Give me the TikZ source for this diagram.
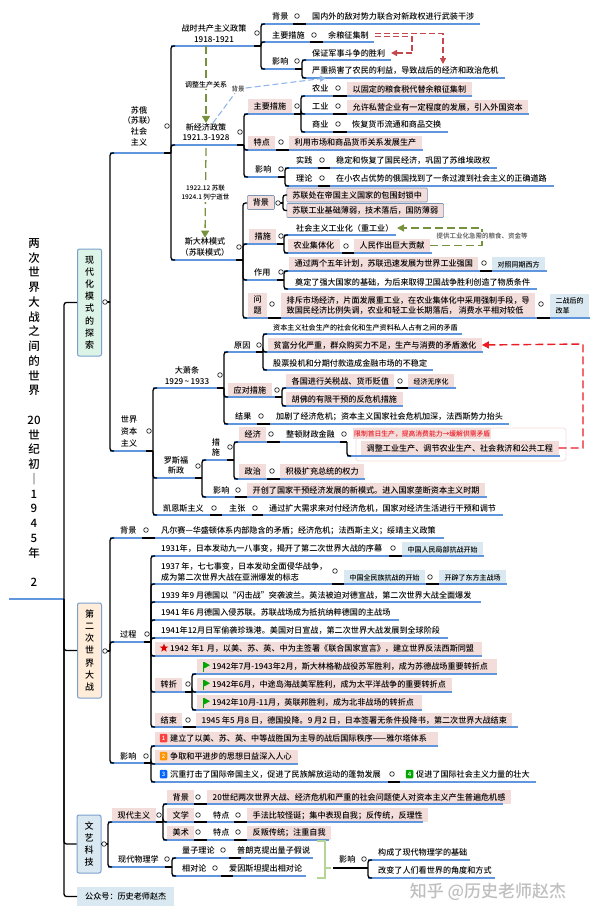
\documentclass[tikz,border=0pt]{standalone}
\usepackage{fontspec}
\setmainfont{Noto Sans CJK SC}[UprightFont=* Medium]
\usepackage{xcolor}
\usepackage{tikz}
\usetikzlibrary{arrows.meta,shapes.geometric}
\definecolor{barblue}{RGB}{96,150,222}
\definecolor{boxblue}{RGB}{122,160,205}
\definecolor{mypink}{RGB}{243,221,219}
\definecolor{mytag}{RGB}{218,233,241}
\definecolor{mygreen}{RGB}{118,146,60}
\definecolor{mybrick}{RGB}{196,72,76}
\definecolor{myred}{RGB}{236,28,36}
\definecolor{mypale}{RGB}{181,212,150}

\tikzset{
  txt/.style={anchor=west,inner xsep=0pt,inner ysep=3pt,text height=7pt,text depth=1pt,font=\fontsize{8.1}{10.5}\selectfont},
  txts/.style={txt,font=\fontsize{7.1}{9}\selectfont},
  ctr/.style={align=center,inner sep=0pt,font=\fontsize{8.1}{10.7}\selectfont},
  txtm/.style={anchor=west,align=left,inner sep=0pt,font=\fontsize{8.1}{11}\selectfont},
  pinkb/.style={txt,fill=mypink,inner xsep=5.5pt},
  pinkbd/.style={pinkb,draw=boxblue!70!gray,line width=.6pt,rounded corners=1pt},
  pinkm/.style={anchor=west,fill=mypink,align=left,inner xsep=5.5pt,inner ysep=2pt,font=\fontsize{8.1}{10.2}\selectfont},
  tagb/.style={txt,fill=mytag,inner xsep=5.5pt,font=\fontsize{7}{9}\selectfont},
  lbl/.style={fill=white,inner sep=1pt,align=center,font=\fontsize{6.5}{9.3}\selectfont},
  modebox/.style={draw=boxblue,line width=1pt,rounded corners=2pt,minimum width=24pt,inner sep=0pt,align=center,font=\fontsize{9}{12.2}\selectfont},
  badge/.style={rounded corners=1pt,minimum width=7.5pt,minimum height=8.5pt,inner sep=0pt,text=white,font=\fontsize{6}{6}\selectfont},
  knob/.style={circle,draw=black!85,line width=.7pt,fill=white,minimum size=4.6pt,inner sep=0pt},
  bar/.style={draw=barblue,line width=1.5pt},
  joint/.style={draw=black,line width=1.3pt},
  spine/.style={draw=black,line width=1.3pt,rounded corners=2.5pt},
  gdash/.style={draw=mygreen,line width=1.3pt,dash pattern=on 8pt off 4pt},
  bdash/.style={draw=barblue!70,line width=1.1pt,dash pattern=on 6pt off 3pt},
  rdash/.style={draw=mybrick,line width=1.3pt,dash pattern=on 6pt off 3pt},
  flagmark/.pic={
    \fill[green!65!black] (0,0) rectangle (1.2,10);
    \fill[green!65!black] (1.2,0) -- (7,3.2) -- (1.2,6.4) -- cycle;
  }
}

% a blue bar under a topic, with its two end points named
\newcommand{\topicbar}[4]{%
  \coordinate (#1l) at (#2,#4);
  \coordinate (#1r) at (#3,#4);
  \draw[bar] (#1l) -- (#1r);
}
% black elbows from the end of a bar to the bars below it
\newcommand{\subtree}[2]{%
  \draw[joint] ([xshift=-7pt]#1r) -- (#1r);
  \foreach \kid in {#2} \draw[spine] (#1r) |- ([xshift=4pt]\kid l);
}

\begin{document}
\begin{tikzpicture}[x=1pt,y=-1pt]
\useasboundingbox (0,0) rectangle (600,916);

% title and the three main boxes
\node[align=center,inner sep=0pt,font=\fontsize{11.5}{14.75}\selectfont] (title) at (34,412.5)
  {两\\次\\世\\界\\大\\战\\之\\间\\的\\世\\界\\~\\20\\世\\纪\\初\\｜\\1\\9\\4\\5\\年\\~\\2};
\node[modebox,fill=green!10!mytag!60!white,minimum height=107pt] (xdbox) at (89.5,302.5)
  {现\\代\\化\\模\\式\\的\\探\\索};
\node[modebox,fill=orange!15,minimum height=95pt] (ezbox) at (89.5,650.5)
  {第\\二\\次\\世\\界\\大\\战};
\node[modebox,fill=mytag,minimum height=58pt,font=\fontsize{9}{11.7}\selectfont] (wybox) at (89,844)
  {文\\艺\\科\\技};
\node[tagb,font=\fontsize{8.1}{10}\selectfont,inner xsep=8pt,inner ysep=5.5pt] (gzh) at (77,896.5) {公众号：历史老师赵杰};

% soviet branch
\node[ctr] (sutxt) at (139,126) {苏俄\\（苏联）\\社会\\主义};
\node[ctr] (zstxt) at (214,33.5) {战时共产主义政策\\1918-1921};
\node[ctr] (xjtxt) at (206,132) {新经济政策\\1921.3-1928};
\node[ctr] (sdtxt) at (205,247) {斯大林模式\\（苏联模式）};

\node[txt] (zsbjt) at (272,16) {背景};
\node[txt] (zsbjc) at (312,16) {国内外的敌对势力联合对新政权进行武装干涉};
\node[txt] (zscst) at (272,35) {主要措施};
\node[txt] (ylz) at (328,35) {余粮征集制};
\node[txt] (zsyxt) at (272,61) {影响};
\node[txt] (zs1t) at (312,53) {保证军事斗争的胜利};
\node[txt] (zs2t) at (312,70) {严重损害了农民的利益，导致战后的经济和政治危机};

\node[pinkb] (xjcst) at (248,106) {主要措施};
\node[txt] (nyt) at (312,88) {农业};
\node[pinkb] (nyc) at (347,89) {以固定的粮食税代替余粮征集制};
\node[txt] (gyt) at (312,106) {工业};
\node[pinkb] (gyc) at (347,107) {允许私营企业有一定程度的发展，引入外国资本};
\node[txt] (syt) at (312,124) {商业};
\node[txt] (syc) at (352,124) {恢复货币流通和商品交换};
\node[pinkb] (tdt) at (248,142.5) {特点};
\node[pinkb] (tdc) at (289,142.5) {利用市场和商品货币关系发展生产};
\node[txt] (xjyxt) at (255,169) {影响};
\node[txt] (sjt) at (296,160) {实践};
\node[txt] (sjc) at (336,160) {稳定和恢复了国民经济，巩固了苏维埃政权};
\node[txt] (llt) at (296,178) {理论};
\node[txt] (llc) at (336,178) {在小农占优势的俄国找到了一条过渡到社会主义的正确道路};

\node[pinkbd] (sdbjt) at (247,202.5) {背景};
\node[pinkbd] (sb1) at (286.5,195) {苏联处在帝国主义国家的包围封锁中};
\node[pinkbd] (sb2) at (286.5,210.5) {苏联工业基础薄弱，技术落后，国防薄弱};
\node[pinkb] (sdcst) at (249,236) {措施};
\node[txt] (gyh) at (296,228) {社会主义工业化（重工业）};
\node[pinkb] (jth) at (288,245.5) {农业集体化};
\node[pinkb] (rmc) at (354,245.5) {人民作出巨大贡献};
\node[txt] (sdzyt) at (254,272) {作用};
\node[pinkb] (wnj) at (289,263.5) {通过两个五年计划，苏联迅速发展为世界工业强国};
\node[tagb] (dzxf) at (492,264) {对照同期西方};
\node[txt] (ddc) at (295,282) {奠定了强大国家的基础，为后来取得卫国战争胜利创造了物质条件};
\node[pinkm,minimum height=25pt,minimum width=19pt,align=center] (wtt) at (248,305) {问\\题};
\node[pinkm,minimum height=25pt] (wtc) at (281,305.5) {排斥市场经济，片面发展重工业，在农业集体化中采用强制手段，导\\致国民经济比例失调，农业和轻工业长期落后， 消费水平相对较低};
\node[tagb,minimum height=24pt,align=left,text height=,text depth=,font=\fontsize{7}{10}\selectfont] (ezgg) at (550,306) {二战后的\\改革};

% capitalist branch
\node[ctr,font=\fontsize{8.1}{12}\selectfont] (sjtxt) at (129,431) {世界\\资本\\主义};
\node[ctr] (dxtxt) at (187,375.5) {大萧条\\1929\,\textasciitilde\,1933};
\node[txt] (dxyyt) at (234,345) {原因};
\node[txts] (yy1c) at (273,327) {资本主义社会生产的社会化和生产资料私人占有之间的矛盾};
\node[pinkb] (pfc) at (268,345) {贫富分化严重，群众购买力不足，生产与消费的矛盾激化};
\node[txt] (yy3c) at (273,363) {股票投机和分期付款造成金融市场的不稳定};
\node[pinkb] (dxcdt) at (228,390) {应对措施};
\node[pinkb] (cd1c) at (286,381) {各国进行关税战、货币贬值};
\node[tagb,fill=mypink] (wxh) at (408,381) {经济无序化};
\node[pinkb] (cd2c) at (286,399) {胡佛的有限干预的反危机措施};
\node[txt] (dxjgt) at (235,416) {结果};
\node[txt] (dxjgc) at (276,416) {加剧了经济危机；资本主义国家社会危机加深，法西斯势力抬头};

\node[ctr] (lstxt) at (176,465.5) {罗斯福\\新政};
\node[ctr] (lscst) at (216,447.5) {措\\施};
\node[draw=mypink,line width=.8pt,rounded corners=3pt,minimum width=210pt,minimum height=33pt,inner sep=0pt] (tzgrp) at (461,444.5) {};
\node[pinkb] (jjt) at (239,434) {经济};
\node[txt] (zdc) at (286,434) {整顿财政金融};
\node[txt,fill=mypink,inner xsep=1pt,inner ysep=1.5pt,text=myred,font=\fontsize{6.8}{8}\selectfont] (xzc) at (353,433.5) {限制首日生产，提高消费能力→缓解供需矛盾};
\node[pinkb] (tzc) at (361,448) {调整工业生产、调节农业生产、社会救济和公共工程};
\node[pinkb] (zzt) at (239,471) {政治};
\node[pinkb] (zzc) at (280,471) {积极扩充总统的权力};
\node[txt] (lsyxt) at (213,490) {影响};
\node[pinkb] (lsyxc) at (247,490) {开创了国家干预经济发展的新模式。进入国家垄断资本主义时期};
\node[txt] (kst) at (163,508) {凯恩斯主义};
\node[txt] (kszz) at (229,508) {主张};
\node[txt] (ksc) at (269,508) {通过扩大需求来对付经济危机，国家对经济生活进行干预和调节};

% second world war branch
\node[txt] (ebjt) at (120,530) {背景};
\node[txt] (ebjc) at (161,530) {凡尔赛—华盛顿体系内部隐含的矛盾；经济危机；法西斯主义；绥靖主义政策};
\node[txt] (egct) at (120,634) {过程};
\node[txt] (g1c) at (161,548) {1931年，日本发动九一八事变，揭开了第二次世界大战的序幕};
\node[tagb] (g1t) at (402,549) {中国人民局部抗战开始};
\node[txtm] (g2c) at (161,571.5) {1937 年，七七事变，日本发动全面侵华战争，\\成为第二次世界大战在亚洲爆发的标志};
\node[tagb] (g2t) at (344,577) {中国全民族抗战的开始};
\node[tagb] (g2u) at (439,577) {开辟了东方主战场};
\node[txt] (g3c) at (161,595) {1939 年9 月德国以“闪击战”突袭波兰。英法被迫对德宣战，第二次世界大战全面爆发};
\node[txt] (g4c) at (161,612) {1941 年6 月德国入侵苏联。苏联战场成为抵抗纳粹德国的主战场};
\node[txt] (g5c) at (161,630) {1941年12月日军偷袭珍珠港。美国对日宣战，第二次世界大战发展到全球阶段};
\node[pinkb,inner xsep=0pt,text width=327pt] (g6c) at (155,648.5) {\hspace*{15pt}1942 年1 月，以美、苏、英、中为主签署《联合国家宣言》，建立世界反法西斯同盟};
\node[star,star points=5,star point ratio=2.4,fill=red!85!black,minimum size=9pt,inner sep=0pt] (g6s) at (164,648) {};

\node[pinkb,inner xsep=0pt,text width=300pt] (zz1c) at (197,666) {\hspace*{15pt}1942年7月-1943年2月，斯大林格勒战役苏军胜利，成为苏德战场重要转折点};
\node[pinkb,inner xsep=0pt,text width=255pt] (zz2c) at (197,684.5) {\hspace*{15pt}1942年6月，中途岛海战美军胜利，成为太平洋战争的重要转折点};
\node[pinkb,inner xsep=0pt,text width=225pt] (zz3c) at (197,702) {\hspace*{15pt}1942年10月-11月，英联邦胜利，成为北非战场的转折点};
\pic at (203,662) {flagmark};
\pic at (203,680) {flagmark};
\pic at (203,698) {flagmark};
\node[pinkb] (gzzt) at (155,684.5) {转折};
\node[pinkb] (gjst) at (155,720) {结束};
\node[pinkb] (gjsc) at (196,720) {1945 年5 月8 日，德国投降。9 月2 日，日本签署无条件投降书，第二次世界大战结束};

\node[txt] (eyxt) at (120,756) {影响};
\node[pinkb,inner xsep=0pt,text width=283pt] (yx1c) at (155,738.5) {\hspace*{15pt}建立了以美、苏、英、中等战胜国为主导的战后国际秩序——雅尔塔体系};
\node[pinkb,inner xsep=0pt,text width=143pt] (yx2c) at (155,756.5) {\hspace*{15pt}争取和平进步的思想日益深入人心};
\node[txt] (yx3c) at (170,774) {沉重打击了国际帝国主义，促进了民族解放运动的蓬勃发展};
\node[txt] (yx4c) at (416,774) {促进了国际社会主义力量的壮大};
\node[badge,fill=red!75] (n1) at (163.5,738) {1};
\node[badge,fill=orange!85!yellow] (n2) at (163.5,756) {2};
\node[badge,fill=blue!60!cyan] (n3) at (163.5,774) {3};
\node[badge,fill=green!65!black] (n4) at (409.5,774) {4};

% art and science branch
\node[pinkb] (xdzy) at (112,815) {现代主义};
\node[pinkb] (xd1t) at (167,797) {背景};
\node[pinkb] (xd1c) at (207,797) {20世纪两次世界大战、经济危机和严重的社会问题使人对资本主义产生普遍危机感};
\node[pinkb] (xd2t) at (167,815) {文学};
\node[txt] (xd2u) at (213,815) {特点};
\node[pinkb] (xd2c) at (247,815) {手法比较怪诞；集中表现自我；反传统，反理性};
\node[pinkb] (xd3t) at (167,832.5) {美术};
\node[txt] (xd3u) at (213,832) {特点};
\node[pinkb] (xd3c) at (247,832.5) {反叛传统；注重自我};
\node[txt] (wlx) at (118,859) {现代物理学};
\node[txt] (wl1t) at (182,850) {量子理论};
\node[txt] (wl1c) at (237,850) {普朗克提出量子假说};
\node[txt] (wl2t) at (182,868) {相对论};
\node[txt] (wl2c) at (229,868) {爱因斯坦提出相对论};
\node[txt] (phyx) at (339,859) {影响};
\node[txt] (ph1c) at (378,852) {构成了现代物理学的基础};
\node[txt] (ph2c) at (378,870) {改变了人们看世界的角度和方式};
\node[anchor=center,inner sep=0pt,text=black!25,font=\fontsize{17}{20}\selectfont] (zhihu) at (488,892) {知乎 @历史老师赵杰};

% bars
\topicbar{su}{110}{171}{153}
\topicbar{zs}{171}{261}{46}
\topicbar{xj}{171}{244}{145}
\topicbar{sd}{171}{243}{260}
\topicbar{zsbj}{261}{480}{24}
\topicbar{zscs}{261}{374}{42}
\topicbar{zsyx}{261}{302}{69}
\topicbar{zs1}{302}{391}{60}
\topicbar{zs2}{302}{505}{78}
\topicbar{xjcs}{244}{301}{114}
\topicbar{xjtd}{244}{423}{150}
\topicbar{xjyx}{244}{285}{177}
\topicbar{csny}{301}{472}{96}
\topicbar{csgy}{301}{529}{114}
\topicbar{cssy}{301}{448}{132}
\topicbar{yxsj}{285}{497}{168}
\topicbar{yxll}{285}{554}{186}
\topicbar{sdcs}{243}{284}{244}
\topicbar{cs1}{284}{396}{235}
\topicbar{cs2}{284}{432}{253}
\topicbar{sdzy}{243}{284}{280}
\topicbar{zy1}{284}{547}{271}
\topicbar{zy2}{284}{537}{289}
\topicbar{sdwt}{243}{590}{318}

\topicbar{sj}{110}{153}{451}
\topicbar{dx}{153}{224}{388}
\topicbar{ls}{153}{202}{478}
\topicbar{ks}{153}{503}{515}
\topicbar{dxyy}{224}{263}{352}
\topicbar{dxcd}{224}{282}{397}
\topicbar{dxjg}{224}{509}{424}
\topicbar{yy1}{263}{462}{334}
\topicbar{yy2}{263}{483}{352}
\topicbar{yy3}{263}{433}{370}
\topicbar{cd1}{282}{456}{388}
\topicbar{cd2}{282}{403}{406}
\topicbar{lscs}{202}{234}{460}
\topicbar{lsyx}{202}{487}{497}
\topicbar{lsjj}{234}{347}{442}
\topicbar{lszz}{234}{365}{479}
\topicbar{lstz}{347}{560}{456}

\topicbar{ebj}{110}{444}{538}
\topicbar{egc}{110}{151}{642}
\topicbar{eyx}{110}{151}{763}
\topicbar{g1}{151}{484}{556}
\topicbar{g2}{151}{507}{584}
\topicbar{g3}{151}{481}{602}
\topicbar{g4}{151}{399}{620}
\topicbar{g5}{151}{448}{638}
\topicbar{g6}{151}{482}{656}
\topicbar{gzz}{151}{192}{692}
\topicbar{gjs}{151}{518}{727}
\topicbar{zz1}{192}{497}{674}
\topicbar{zz2}{192}{452}{692}
\topicbar{zz3}{192}{422}{710}
\topicbar{yx1}{151}{438}{746}
\topicbar{yx2}{151}{298}{764}
\topicbar{yx3}{151}{536}{782}

\topicbar{wxd}{108}{163}{822}
\topicbar{wwl}{108}{172}{867}
\topicbar{xd1}{163}{503}{804}
\topicbar{xd2}{163}{423}{822}
\topicbar{xd3}{163}{329}{840}
\topicbar{wl1}{172}{313}{858}
\topicbar{wl2}{172}{306}{876}
\topicbar{ph1}{368}{470}{860}
\topicbar{ph2}{368}{495}{878}

\coordinate (rootl) at (9,599);
\coordinate (rootr) at (64,599);
\draw[bar,line width=2pt] (rootl) -- (rootr);
\foreach \boxname in {xdbox,ezbox,wybox,gzh} \draw[spine] (rootr) |- (\boxname);

% elbows
\coordinate (xdr) at (110,302);
\coordinate (ezr) at (110,651);
\coordinate (wyr) at (108,844);
\coordinate (sdbjl) at (243,203);
\coordinate (sdbjr) at (283,203);
\coordinate (sb1l) at (283,195);
\coordinate (sb2l) at (283,210.5);
\coordinate (phl) at (333,868);
\coordinate (phr) at (368,868);
\subtree{xd}{su,sj}
\subtree{ez}{ebj,egc,eyx}
\subtree{wy}{wxd,wwl}
\subtree{su}{zs,xj,sd}
\subtree{zs}{zsbj,zscs,zsyx}
\subtree{zsyx}{zs1,zs2}
\subtree{xj}{xjcs,xjtd,xjyx}
\subtree{xjcs}{csny,csgy,cssy}
\subtree{xjyx}{yxsj,yxll}
\subtree{sd}{sdbj,sdcs,sdzy,sdwt}
\subtree{sdbj}{sb1,sb2}
\subtree{sdcs}{cs1,cs2}
\subtree{sdzy}{zy1,zy2}
\subtree{sj}{dx,ls,ks}
\subtree{dx}{dxyy,dxcd,dxjg}
\subtree{dxyy}{yy1,yy2,yy3}
\subtree{dxcd}{cd1,cd2}
\subtree{ls}{lscs,lsyx}
\subtree{lscs}{lsjj,lszz}
\subtree{lsjj}{lstz}
\subtree{egc}{g1,g2,g3,g4,g5,g6,gzz,gjs}
\subtree{gzz}{zz1,zz2,zz3}
\subtree{eyx}{yx1,yx2,yx3}
\subtree{wxd}{xd1,xd2,xd3}
\subtree{wwl}{wl1,wl2}
\subtree{ph}{ph1,ph2}
\draw[joint] (phl) -- (phr);

% short black pieces on the bars
\foreach \xa/\xb/\ya in {293/306/24,310/323/42,333/347/96,333/347/114,333/347/132,276/289/150,318/330/168,318/330/186,
  342/354/253,480/492/271,268/281/318,537/550/318,396/408/388,257/270/424,267/280/442,267/280/479,235/247/497,
  210/222/515,252/263/515,142/155/538,389/402/556,332/344/584,426/439/584,183/196/727,388/400/782,
  194/207/804,194/207/822,194/207/840,234/247/822,234/247/840,229/241/858,221/233/876}
  \draw[joint] (\xa,\ya) -- (\xb,\ya);

% small rings
\foreach \xa/\ya in {297/16,314/35,297/61,257/33,240/132,297/106,338/88,338/106,338/124,281/142,322/160,322/178,281/169,239/247,167/126,
  278/203,281/236,346/246,281/272,484/263,272/304,541/304,149/431,220/375,259/345,277/390,400/381,261/416,198/466,230/447,
  271/434,344/434,272/471,238/490,214/508,255/508,146/530,147/634,393/548,335/571,430/577,188/684,188/720,146/756,392/774,
  105/302,105/651,104/844,159/815,198/797,198/815,198/832,238/815,238/832,167/859,223/850,215/868,364/859}
  \node[knob] (k\xa-\ya) at (\xa,\ya) {};

% green links
\draw[gdash,-{Triangle[width=8pt,length=7pt]}] (xjtxt.north |- zsr) -- node[lbl,font=\fontsize{7}{9}\selectfont] (tzgx) {调整生产关系} (xjtxt.north);
\draw[gdash,-{Triangle[width=8pt,length=7pt]}] ([yshift=-3pt]xjtxt.south |- xjr) -- node[lbl] (lnzs) {1922.12 苏联\\1924.1 列宁逝世} (sdtxt.north);
\coordinate (gdup) at (482,228);
\coordinate (gdend) at (397,228);
\draw[gdash,-{Triangle[width=7pt,length=7pt]}] (rmc.east) -| (gdup) -- (gdend);
\node[lbl,text=black!70] (tggy) at (482,236) {提供工业化急需的粮食、资金等};

% blue link
\node[lbl,text=black!80] (xjbj) at (238,89) {背景};
\coordinate (bdend) at (326,78);
\draw[bdash] ([xshift=7pt]xjtxt.north) -- (xjbj);
\draw[bdash,-{Triangle[width=6pt,length=6pt]}] (xjbj) -- (bdend);

% red links
\coordinate (ylzr) at (375,35);
\coordinate (rdturn) at (412,53);
\coordinate (rdtip) at (391,53);
\coordinate (rdlow) at (443,64);
\draw[rdash,-{Triangle[width=6pt,length=6pt]}] ([yshift=-1.5pt]ylzr) -| (rdturn) -- (rdtip);
\draw[rdash,-{Triangle[width=6pt,length=6pt]}] ([yshift=1.5pt]ylzr) -| (rdlow);
\coordinate (rdx) at (583,344);
\draw[draw=myred,line width=1.4pt,dash pattern=on 8pt off 4pt,-{Triangle[width=7pt,length=7pt]}] (tzc.east) -| (rdx) -- (pfc.east);

% bracket between physics and its influence
\coordinate (bra) at (317,841);
\coordinate (brb) at (325,868);
\coordinate (brc) at (317,878);
\draw[draw=mypale,line width=1.6pt] (bra) -| (brb) |- (brc);
\draw[draw=mypale,line width=1.6pt] (brb) -- ++(6,0);
\end{tikzpicture}
\end{document}
